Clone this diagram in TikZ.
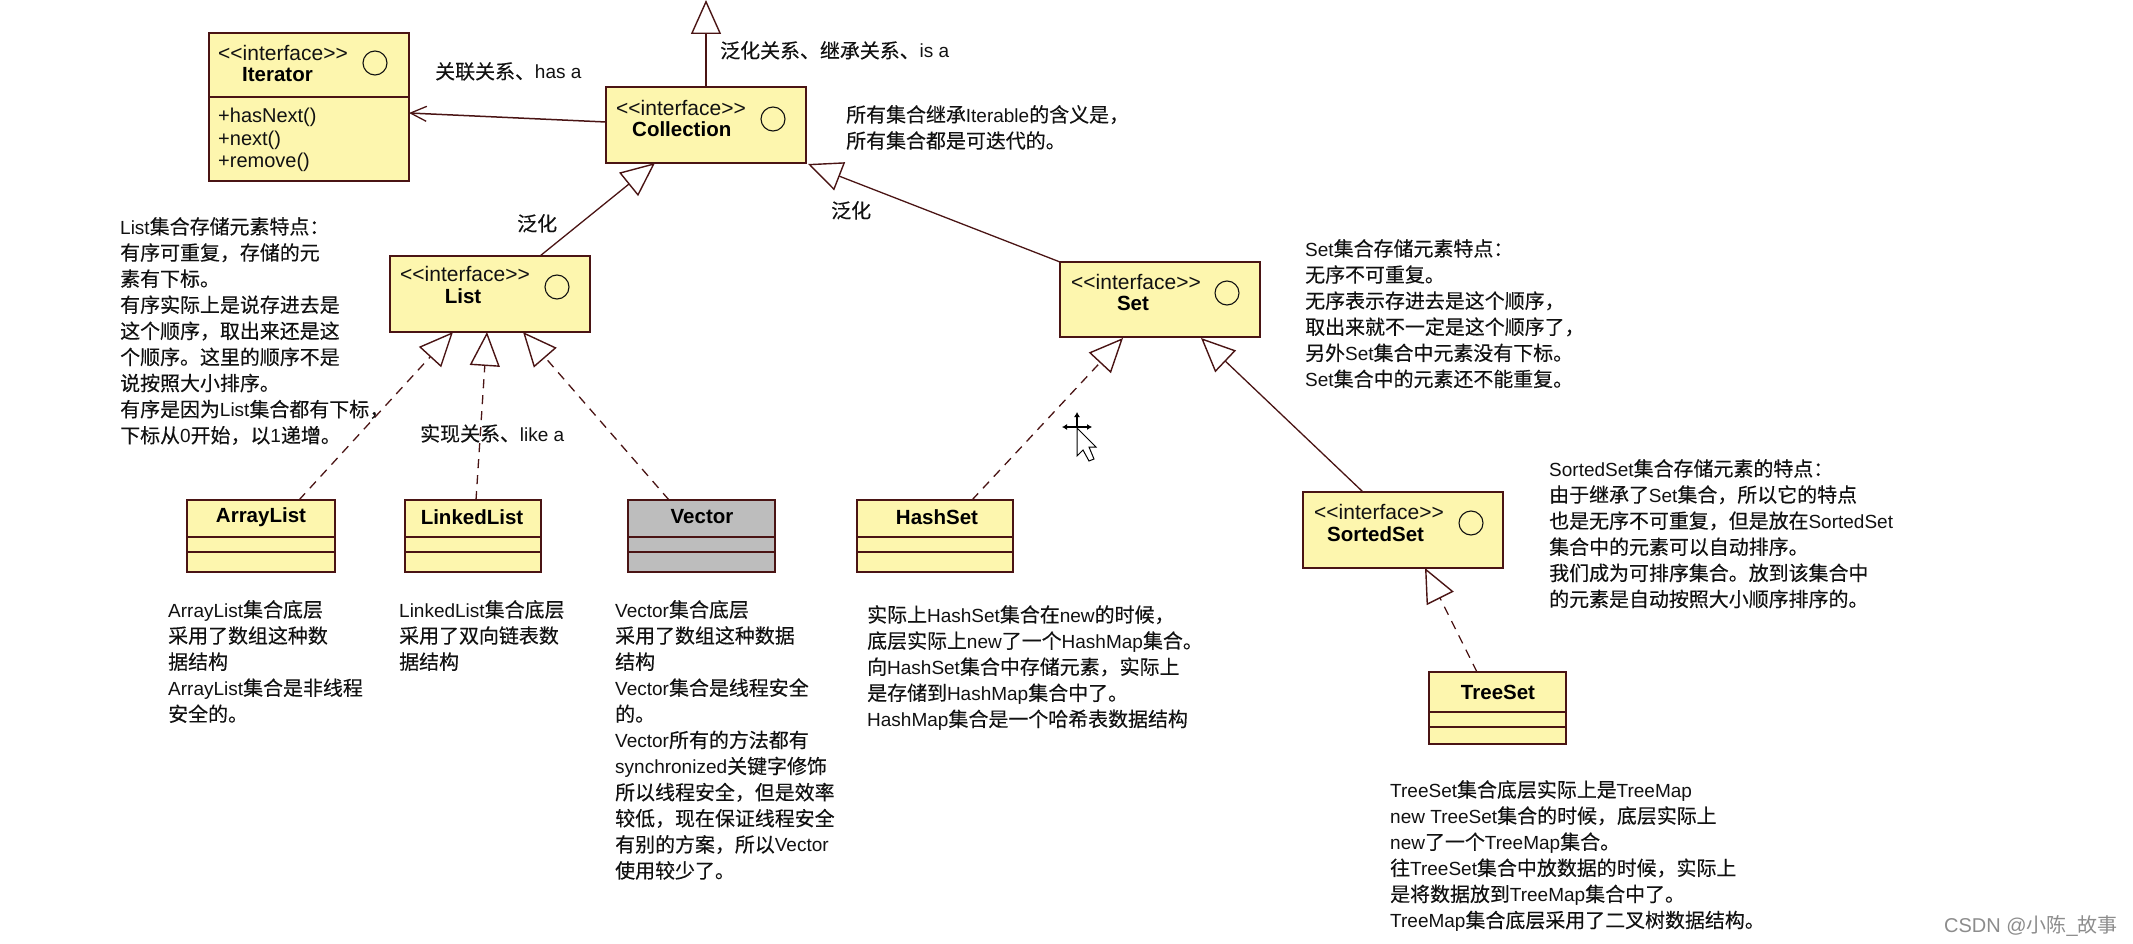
\documentclass[tikz,border=0pt]{standalone}
\usepackage{fontspec}
\setmainfont{Liberation Sans}
\newfontfamily\cjk[Scale=1.05,FakeBold=0.25]{Noto Sans CJK SC}
\newcommand\Z[1]{{\cjk #1}}
\usetikzlibrary{arrows.meta}
\definecolor{ink}{HTML}{111111}
\definecolor{edge}{HTML}{4A1414}
\definecolor{paleyellow}{HTML}{FDF6AE}
\definecolor{voidgray}{HTML}{BDBDBD}
\tikzset{
  umlbox/.style={draw=edge,line width=1.8pt,fill=paleyellow,anchor=north west,inner sep=0pt,outer sep=0pt},
  graybox/.style={umlbox,draw=edge,fill=voidgray},
  divider/.style={draw=edge,line width=1.6pt},
  lollipop/.style={draw=ink,line width=1.1pt,circle,minimum size=24pt,inner sep=0pt},
  stereo/.style={anchor=west,inner sep=0pt,text=ink,font=\fontsize{21}{24}\selectfont},
  title/.style={inner sep=0pt,text=black,font=\fontsize{20.5}{24}\selectfont\bfseries},
  methods/.style={anchor=west,inner sep=0pt,align=left,text=ink,font=\fontsize{20}{22.6}\selectfont},
  note/.style={anchor=north west,inner sep=0pt,align=left,text=ink,font=\fontsize{19}{26.1}\selectfont},
  extends/.style={draw=edge,line width=1.3pt,-{Triangle[open,length=34pt,width=30pt,line width=1.4pt]}},
  realizes/.style={extends,dash pattern=on 9pt off 7pt},
  assoc/.style={draw=edge,line width=1.5pt,-{Straight Barb[length=16pt,width=15pt,line width=1.3pt]}},
  cursorline/.style={draw=black,line width=1pt,fill=white}
}
\begin{document}
\begin{tikzpicture}[x=1pt,y=-1pt]
\useasboundingbox (0,0) rectangle (2133,944);
% class boxes
\node[umlbox,minimum width=200pt,minimum height=148pt] (Iterator) at (209,33) {};
\node[umlbox,minimum width=200pt,minimum height=76pt] (Collection) at (606,87) {};
\node[umlbox,minimum width=200pt,minimum height=76pt] (List) at (390,256) {};
\node[umlbox,minimum width=200pt,minimum height=75pt] (Set) at (1060,262) {};
\node[umlbox,minimum width=200pt,minimum height=76pt] (SortedSet) at (1303,492) {};
\node[umlbox,minimum width=148pt,minimum height=72pt] (ArrayList) at (187,500) {};
\node[umlbox,minimum width=136pt,minimum height=72pt] (LinkedList) at (405,500) {};
\node[graybox,minimum width=147pt,minimum height=72pt] (Vector) at (628,500) {};
\node[umlbox,minimum width=156pt,minimum height=72pt] (HashSet) at (857,500) {};
\node[umlbox,minimum width=137pt,minimum height=72pt] (TreeSet) at (1429,672) {};
% compartments
\draw[divider] ([yshift=-64pt]Iterator.north west) -- ([yshift=-64pt]Iterator.north east);
\foreach \n in {ArrayList,LinkedList,Vector,HashSet}{
  \draw[divider] ([yshift=-37pt]\n.north west) -- ([yshift=-37pt]\n.north east);
  \draw[divider] ([yshift=-52pt]\n.north west) -- ([yshift=-52pt]\n.north east);
}
\draw[divider] ([yshift=-40pt]TreeSet.north west) -- ([yshift=-40pt]TreeSet.north east);
\draw[divider] ([yshift=-55pt]TreeSet.north west) -- ([yshift=-55pt]TreeSet.north east);
% lollipops
\node[lollipop] (oIterator) at (375,63) {};
\node[lollipop] (oCollection) at (773,119) {};
\node[lollipop] (oList) at (557,287) {};
\node[lollipop] (oSet) at (1227,293) {};
\node[lollipop] (oSortedSet) at (1471,523) {};
% class texts
\node[stereo] (sIterator) at (218,53) {<{}<interface>{}>};
\node[title,anchor=west] (tIterator) at (242,75) {Iterator};
\node[methods] (mIterator) at (218,140) {+hasNext()\\+next()\\+remove()};
\node[stereo] (sCollection) at (616,108) {<{}<interface>{}>};
\node[title,anchor=west] (tCollection) at (632,129) {Collection};
\node[stereo] (sList) at (400,274) {<{}<interface>{}>};
\node[title] (tList) at (463,296) {List};
\node[stereo] (sSet) at (1071,282) {<{}<interface>{}>};
\node[title] (tSet) at (1133,303) {Set};
\node[stereo] (sSortedSet) at (1314,512) {<{}<interface>{}>};
\node[title,anchor=west] (tSortedSet) at (1327,534) {SortedSet};
\node[title] (tArrayList) at (261,517) {ArrayList};
\node[title] (tLinkedList) at (472,517) {LinkedList};
\node[title] (tVector) at (702,517) {Vector};
\node[title] (tHashSet) at (937,517) {HashSet};
\node[title] (tTreeSet) at (1498,692) {TreeSet};
% connectors
\coordinate (Iterable) at (706,0);
\draw[extends] (Collection.north) -- (Iterable);
\draw[assoc] ([yshift=-35pt]Collection.north west) -- ([yshift=-80pt]Iterator.north east);
\draw[extends] ([xshift=150pt]List.north west) -- ([xshift=49pt]Collection.south west);
\draw[extends] (Set.north west) -- ([xshift=2pt,yshift=-1pt]Collection.south east);
\draw[realizes] ([xshift=112pt]ArrayList.north west) -- ([xshift=63pt]List.south west);
\draw[realizes] ([xshift=71pt]LinkedList.north west) -- ([xshift=97pt]List.south west);
\draw[realizes] ([xshift=41pt]Vector.north west) -- ([xshift=133pt]List.south west);
\draw[realizes] ([xshift=115pt]HashSet.north west) -- ([xshift=63pt,yshift=-1pt]Set.south west);
\draw[extends] ([xshift=60pt]SortedSet.north west) -- ([xshift=141pt,yshift=-1pt]Set.south west);
\draw[realizes] ([xshift=48pt]TreeSet.north west) -- ([xshift=122pt]SortedSet.south west);
% labels
\node[note] (lHasA) at (435,62) {\Z{关联关系、}has a};
\node[note] (lIsA) at (720,41) {\Z{泛化关系、继承关系、}is a};
\node[note] (lIterable) at (846,105) {\Z{所有集合继承}Iterable\Z{的含义是，}\\\Z{所有集合都是可迭代的。}};
\node[note] (lGenA) at (517,214) {\Z{泛化}};
\node[note] (lGenB) at (831,201) {\Z{泛化}};
\node[note] (lLikeA) at (420,424) {\Z{实现关系、}like a};
\node[note] (nList) at (120,217) {List\Z{集合存储元素特点：}\\\Z{有序可重复，存储的元}\\\Z{素有下标。}\\\Z{有序实际上是说存进去是}\\\Z{这个顺序，取出来还是这}\\\Z{个顺序。这里的顺序不是}\\\Z{说按照大小排序。}\\\Z{有序是因为}List\Z{集合都有下标，}\\\Z{下标从}0\Z{开始，以}1\Z{递增。}};
\node[note] (nSet) at (1305,239) {Set\Z{集合存储元素特点：}\\\Z{无序不可重复。}\\\Z{无序表示存进去是这个顺序，}\\\Z{取出来就不一定是这个顺序了，}\\\Z{另外}Set\Z{集合中元素没有下标。}\\Set\Z{集合中的元素还不能重复。}};
\node[note] (nArrayList) at (168,600) {ArrayList\Z{集合底层}\\\Z{采用了数组这种数}\\\Z{据结构}\\ArrayList\Z{集合是非线程}\\\Z{安全的。}};
\node[note] (nLinkedList) at (399,600) {LinkedList\Z{集合底层}\\\Z{采用了双向链表数}\\\Z{据结构}};
\node[note] (nVector) at (615,600) {Vector\Z{集合底层}\\\Z{采用了数组这种数据}\\\Z{结构}\\Vector\Z{集合是线程安全}\\\Z{的。}\\Vector\Z{所有的方法都有}\\synchronized\Z{关键字修饰}\\\Z{所以线程安全，但是效率}\\\Z{较低，现在保证线程安全}\\\Z{有别的方案，所以}Vector\\\Z{使用较少了。}};
\node[note] (nHashSet) at (867,605) {\Z{实际上}HashSet\Z{集合在}new\Z{的时候，}\\\Z{底层实际上}new\Z{了一个}HashMap\Z{集合。}\\\Z{向}HashSet\Z{集合中存储元素，实际上}\\\Z{是存储到}HashMap\Z{集合中了。}\\HashMap\Z{集合是一个哈希表数据结构}};
\node[note] (nSortedSet) at (1549,459) {SortedSet\Z{集合存储元素的特点：}\\\Z{由于继承了}Set\Z{集合，所以它的特点}\\\Z{也是无序不可重复，但是放在}SortedSet\\\Z{集合中的元素可以自动排序。}\\\Z{我们成为可排序集合。放到该集合中}\\\Z{的元素是自动按照大小顺序排序的。}};
\node[note] (nTreeSet) at (1390,780) {TreeSet\Z{集合底层实际上是}TreeMap\\new TreeSet\Z{集合的时候，底层实际上}\\new\Z{了一个}TreeMap\Z{集合。}\\\Z{往}TreeSet\Z{集合中放数据的时候，实际上}\\\Z{是将数据放到}TreeMap\Z{集合中了。}\\TreeMap\Z{集合底层采用了二叉树数据结构。}};
% watermark
\node[anchor=east,inner sep=0pt,text=black!45,font=\fontsize{20}{24}\selectfont] (mark) at (2118,926) {CSDN @{\fontspec{Noto Sans CJK SC}小陈}\_{\fontspec{Noto Sans CJK SC}故事}};
% mouse cursor (scene detail)
\draw[black,line width=1.4pt,{Latex[length=5pt,width=6pt]}-{Latex[length=5pt,width=6pt]}] (1062,427) -- (1092,427);
\draw[black,line width=1.4pt,{Latex[length=5pt,width=6pt]}-] (1077,412) -- (1077,427);
\draw[cursorline] (1077,428) -- (1077,456) -- (1083,450) -- (1089,461) -- (1094,459) -- (1089,447) -- (1096,447) -- cycle;
\end{tikzpicture}
\end{document}
